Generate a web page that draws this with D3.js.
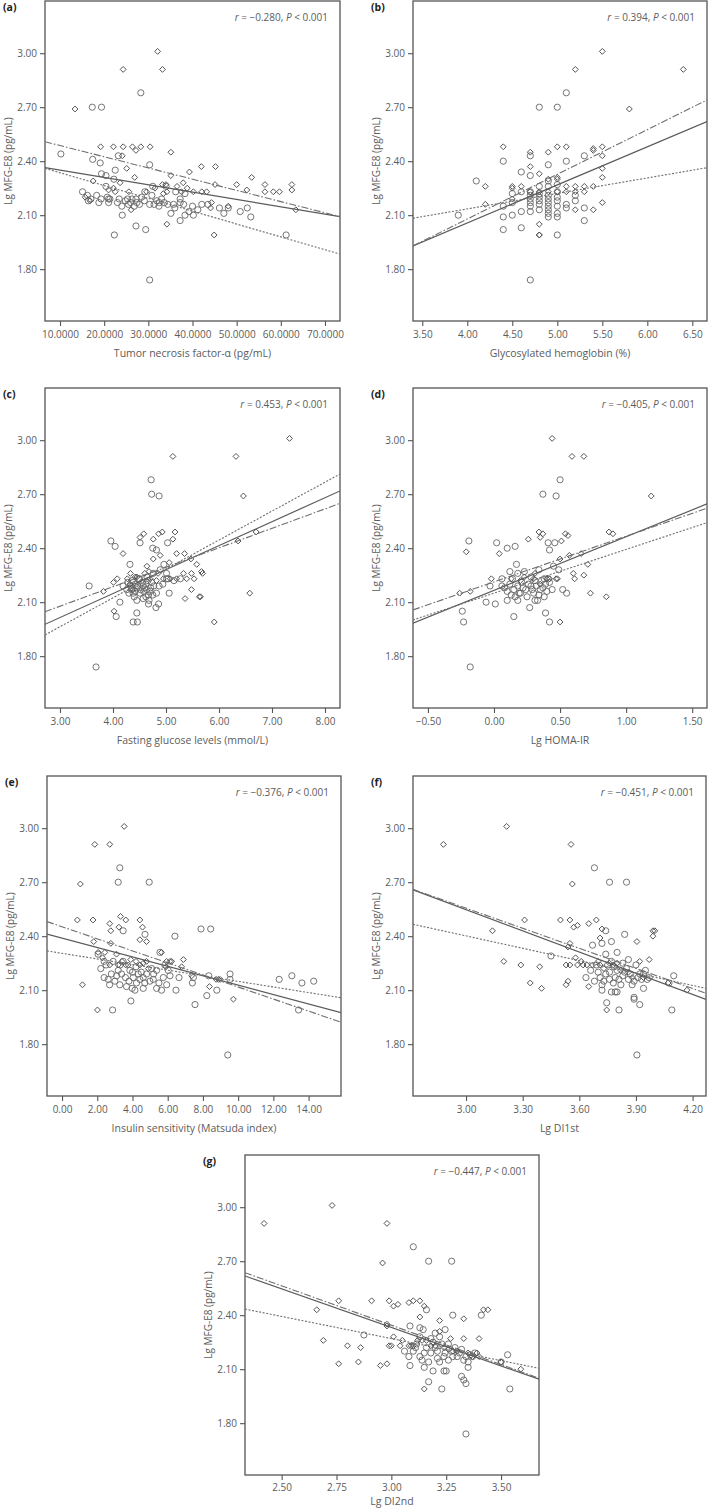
<!DOCTYPE html>
<html><head><meta charset="utf-8">
<script src="https://cdn.jsdelivr.net/npm/d3@7/dist/d3.min.js"></script>
<style>
body{margin:0;background:#fff;}
svg{display:block;font-family:"Open Sans",sans-serif;}
</style></head>
<body><svg id="chart" width="709" height="1510"></svg>
<script>
// ---------------- DATA ----------------
const yTicks = [1.80, 2.10, 2.40, 2.70, 3.00];
const yDomain = [1.512, 3.29];
const yTitle = "Lg MFG-E8 (pg/mL)";

// (a) Tumor necrosis factor-α
const aXTicks = [10, 20, 30, 40, 50, 60, 70];
const aDomain = [6.6, 73.4];
const aDiamonds = [[13.4,2.69],[24.3,2.91],[32.1,3.01],[33.2,2.91],[19.2,2.48],[22.1,2.48],[24.3,2.48],[26.4,2.48],[28.3,2.48],[30.4,2.48],
 [27.2,2.46],[35.1,2.45],[24.1,2.43],[39.3,2.34],[42.0,2.37],[45.2,2.37],[25.1,2.36],[35.1,2.32],[26.9,2.31],[53.4,2.31],
 [50.0,2.27],[56.4,2.27],[62.5,2.27],[52.3,2.24],[56.4,2.23],[58.3,2.23],[59.7,2.23],[62.5,2.24],[45.1,2.27],[42.1,2.23],
 [43.2,2.23],[40.2,2.23],[33.2,2.27],[34.0,2.27],[34.2,2.23],[33.4,2.22],[37.5,2.23],[37.9,2.28],[25.6,2.23],[22.5,2.23],
 [22.1,2.25],[17.5,2.29],[15.7,2.20],[16.8,2.18],[44.3,2.17],[44.1,2.14],[48.1,2.15],[34.2,2.05],[44.9,1.99],[63.4,2.13],[26.1,2.13],
 [36.5,2.26],[38.8,2.25],[31.5,2.25],[29.6,2.23],[21.0,2.24],[23.6,2.28]];
const aCircles = [[10.2,2.44],[17.3,2.70],[19.4,2.70],[28.3,2.78],[17.4,2.41],[19.1,2.39],[19.4,2.33],[20.4,2.32],[22.5,2.35],[30.3,2.38],
 [23.2,2.43],[15.1,2.23],[16.2,2.21],[16.4,2.18],[18.3,2.21],[19.3,2.19],[20.7,2.20],[21.3,2.19],[20.4,2.26],[22.2,2.30],
 [23.4,2.19],[25.3,2.19],[24.0,2.15],[25.5,2.16],[27.2,2.19],[27.4,2.17],[29.1,2.18],[29.2,2.23],[31.0,2.26],[31.9,2.18],
 [33.0,2.19],[30.3,2.16],[31.3,2.16],[24.1,2.10],[27.2,2.04],[29.4,2.02],[22.3,1.99],[30.3,1.74],[35.1,2.11],[37.2,2.07],
 [34.4,2.16],[35.7,2.16],[37.2,2.19],[37.2,2.17],[38.3,2.10],[39.2,2.12],[40.2,2.10],[40.0,2.15],[38.3,2.22],[46.1,2.14],
 [47.1,2.11],[48.1,2.14],[50.8,2.12],[52.4,2.14],[53.2,2.09],[61.2,1.99],[42.1,2.16],[21.0,2.17],[21.0,2.19],[26.0,2.17],
 [26.3,2.19],[28.0,2.16],[32.5,2.17],[36.2,2.23],[34.0,2.26],[17.0,2.19],[18.8,2.17],[23.0,2.17],[24.8,2.18],[26.8,2.15],
 [28.5,2.20],[30.8,2.21],[32.4,2.15],[33.6,2.17],[36.0,2.14],[38.0,2.16],[41.2,2.13],[43.5,2.16]];
const aFitTotal = [[6.6,2.364],[73.4,2.092]];
const aFitDotted = [[6.6,2.36],[73.4,1.884]];
const aFitDashDot = [[6.6,2.508],[73.4,2.092]];

// (b) Glycosylated hemoglobin
const bXTicks = [3.5, 4.0, 4.5, 5.0, 5.5, 6.0, 6.5];
const bDomain = [3.397, 6.663];
const bDiamonds = [[5.5,3.01],[5.2,2.91],[6.4,2.91],[5.8,2.69],[4.4,2.48],[4.7,2.45],[4.9,2.45],[5.0,2.48],[5.1,2.48],[5.4,2.47],
 [5.4,2.46],[5.5,2.48],[5.5,2.43],[5.5,2.36],[5.5,2.31],[4.7,2.37],[4.8,2.33],[5.0,2.31],[5.0,2.30],[4.9,2.30],
 [4.5,2.26],[4.5,2.25],[4.6,2.26],[4.2,2.26],[5.1,2.26],[5.2,2.26],[5.3,2.26],[5.4,2.26],[4.7,2.23],[4.8,2.23],
 [4.9,2.23],[5.1,2.23],[5.2,2.23],[5.3,2.23],[5.0,2.23],[4.5,2.19],[4.2,2.16],[5.2,2.13],[5.4,2.13],[5.5,2.17],
 [4.8,2.05],[4.8,1.99],[4.8,1.99]];
const bCircles = [[5.1,2.78],[4.8,2.70],[5.0,2.70],[4.4,2.40],[5.1,2.40],[4.1,2.29],[3.9,2.10],[4.6,2.34],[4.9,2.38],[5.3,2.43],
 [4.7,2.43],[4.4,2.15],[4.4,2.09],[4.4,2.02],[4.5,2.10],[4.6,2.03],[4.6,2.12],[4.5,2.17],[4.7,2.12],[4.7,2.15],
 [4.7,2.17],[4.7,2.19],[4.7,2.21],[4.7,2.32],[4.7,2.23],[4.8,2.13],[4.8,2.16],[4.8,2.18],[4.8,2.20],[4.8,2.22],
 [4.8,2.26],[4.9,2.09],[4.9,2.11],[4.9,2.13],[4.9,2.15],[4.9,2.17],[4.9,2.19],[4.9,2.21],[4.9,2.26],[4.9,2.29],
 [5.0,1.99],[5.0,2.09],[5.0,2.11],[5.0,2.15],[5.0,2.18],[5.0,2.20],[5.0,2.23],[5.0,2.27],[5.1,2.14],[5.1,2.16],
 [5.2,2.18],[5.2,2.21],[5.3,2.07],[5.3,2.14],[4.6,2.23],[4.5,2.22],[4.7,1.74]];
const bFitTotal = [[3.397,1.929],[6.663,2.62]];
const bFitDotted = [[3.397,2.083],[6.663,2.364]];
const bFitDashDot = [[3.397,1.929],[6.663,2.74]];

// (c) Fasting glucose
const cXTicks = [3, 4, 5, 6, 7, 8];
const cDomain = [2.717, 8.283];
const cDiamonds = [[7.33,3.01],[5.13,2.91],[6.32,2.91],[6.46,2.69],[6.70,2.49],[6.36,2.44],[6.58,2.15],[5.91,1.99],
 [5.17,2.49],[4.93,2.49],[4.86,2.48],[4.58,2.48],[4.51,2.46],[4.76,2.45],[5.13,2.45],[4.19,2.37],[5.20,2.37],[5.35,2.37],
 [5.06,2.32],[5.47,2.34],[5.58,2.31],[5.08,2.23],[5.20,2.23],[5.39,2.23],[5.53,2.23],[5.67,2.27],[5.69,2.26],[5.33,2.26],
 [5.48,2.26],[5.48,2.17],[5.36,2.12],[5.63,2.13],[5.65,2.13],[4.08,2.23],[4.01,2.21],[3.82,2.16],[4.33,2.26],[4.42,2.24],
 [4.38,2.17],[4.02,2.05],[4.64,2.30],[4.76,2.34],[4.89,2.36],[4.70,2.23],[4.82,2.22],[4.95,2.23],
 [4.27,2.23],[4.32,2.20],[4.45,2.24],[4.60,2.26],[4.68,2.27],[4.85,2.26]];
const cCircles = [[4.72,2.78],[4.73,2.70],[4.87,2.69],[3.55,2.19],[3.68,1.74],[3.96,2.44],[4.04,2.41],[4.51,2.43],[4.32,2.31],
 [4.75,2.40],[4.82,2.39],[5.03,2.43],[4.06,2.02],[4.38,1.99],[4.46,1.99],[4.45,2.04],[4.13,2.10],[4.45,2.11],[4.67,2.09],
 [4.81,2.07],[4.86,2.09],[5.06,2.15],[4.87,2.19],[4.26,2.17],[4.35,2.17],[4.19,2.19],[4.42,2.20],[4.51,2.15],[4.57,2.19],
 [4.64,2.17],[4.73,2.21],[4.77,2.19],[4.82,2.15],[4.94,2.20],[4.64,2.24],[4.76,2.26],[4.89,2.28],[5.01,2.26],[4.96,2.31],
 [4.50,2.23],[4.57,2.12],[4.67,2.14],[5.01,2.23],[5.04,2.23],[5.15,2.22],[5.27,2.23],[4.30,2.15],[4.40,2.13],[4.55,2.21],
 [4.60,2.18],[4.70,2.16],[4.45,2.18],[4.28,2.21],[4.33,2.19],[4.38,2.15],[4.42,2.16],[4.47,2.19],[4.52,2.17],[4.58,2.16],
 [4.62,2.20],[4.66,2.22],[4.71,2.18],[4.75,2.14],[4.62,2.13],[4.68,2.11],[4.36,2.22],[4.48,2.23]];
const cFitTotal = [[2.717,1.977],[8.283,2.718]];
const cFitDotted = [[2.717,1.918],[8.283,2.812]];
const cFitDashDot = [[2.717,2.047],[8.283,2.649]];

// (d) Lg HOMA-IR
const dXTicks = [-0.5, 0, 0.5, 1.0, 1.5];
const dDomain = [-0.613, 1.612];
const dDiamonds = [[0.44,3.01],[0.59,2.91],[0.68,2.91],[1.19,2.69],[0.87,2.49],[0.90,2.48],[0.34,2.49],[0.37,2.48],[0.54,2.48],
 [0.56,2.47],[0.35,2.46],[0.26,2.45],[0.51,2.44],[-0.21,2.38],[0.04,2.37],[0.66,2.37],[0.57,2.36],[0.71,2.31],[0.50,2.34],
 [-0.02,2.23],[-0.18,2.16],[-0.26,2.15],[0.47,2.23],[0.48,2.23],[0.60,2.26],[0.61,2.23],[0.68,2.25],[0.73,2.15],[0.85,2.13],
 [0.50,1.99],[0.13,2.23],[0.23,2.24],[0.31,2.26],[0.35,2.20],[0.40,2.23],[0.42,2.23],[0.30,2.23],[0.20,2.22]];
const dCircles = [[0.50,2.78],[0.37,2.70],[0.47,2.69],[-0.19,2.44],[0.02,2.43],[0.16,2.41],[0.10,2.40],[0.41,2.43],[0.46,2.43],
 [0.42,2.39],[0.17,2.31],[-0.24,2.05],[-0.23,1.99],[-0.18,1.74],[-0.06,2.10],[0.01,2.09],[0.15,2.02],[0.27,2.07],[0.39,2.04],
 [0.42,1.99],[-0.03,2.19],[0.06,2.19],[0.10,2.16],[0.13,2.14],[0.15,2.17],[0.16,2.13],[0.18,2.19],[0.20,2.15],[0.21,2.21],
 [0.24,2.17],[0.25,2.13],[0.28,2.19],[0.30,2.15],[0.31,2.22],[0.33,2.11],[0.35,2.17],[0.38,2.13],[0.39,2.20],[0.40,2.16],
 [0.06,2.23],[0.18,2.26],[0.28,2.24],[0.38,2.23],[0.41,2.23],[0.31,2.11],[0.10,2.11],[0.18,2.11],[0.45,2.30],[0.49,2.28],
 [0.52,2.17],[0.55,2.15],[0.08,2.18],[0.12,2.20],[0.14,2.23],[0.19,2.15],[0.22,2.18],[0.26,2.20],[0.29,2.17],[0.32,2.19],
 [0.34,2.14],[0.36,2.22],[0.37,2.18],[0.42,2.21],[0.44,2.17],[0.12,2.27],[0.23,2.27],[0.34,2.28]];
const dFitTotal = [[-0.613,1.983],[1.612,2.646]];
const dFitDotted = [[-0.613,2.001],[1.612,2.542]];
const dFitDashDot = [[-0.613,2.057],[1.612,2.622]];

// (e) Matsuda index
const eXTicks = [0, 2, 4, 6, 8, 10, 12, 14];
const eDomain = [-0.854, 15.84];
const eDiamonds = [[3.53,3.01],[1.86,2.91],[2.71,2.91],[1.04,2.69],[0.87,2.49],[1.76,2.49],[2.71,2.47],[3.23,2.45],[3.32,2.51],
 [3.62,2.49],[4.42,2.49],[4.57,2.45],[2.77,2.43],[1.80,2.37],[4.42,2.38],[4.80,2.37],[2.77,2.36],[6.89,2.27],[6.79,2.23],
 [1.16,2.13],[2.05,2.31],[2.43,2.31],[2.71,2.24],[3.09,2.30],[3.19,2.24],[3.62,2.24],[3.76,2.24],[4.42,2.24],[4.61,2.25],
 [4.80,2.26],[4.90,2.22],[5.65,2.31],[5.94,2.26],[6.13,2.26],[6.22,2.26],[7.36,2.18],[8.37,2.12],[8.75,2.16],[8.88,2.16],
 [9.73,2.05],[8.98,2.16],[2.01,1.99],[2.3,2.28],[3.4,2.26],[3.9,2.27],[4.2,2.26],[5.9,2.23]];
const eCircles = [[3.28,2.78],[3.19,2.70],[4.95,2.70],[3.47,2.43],[7.89,2.44],[8.44,2.44],[6.41,2.40],[4.71,2.41],[2.87,1.99],
 [3.91,2.04],[7.55,2.02],[8.22,2.07],[9.41,1.74],[13.43,1.99],[12.33,2.16],[13.05,2.18],[13.62,2.14],[14.29,2.15],[9.54,2.19],
 [9.54,2.16],[7.46,2.17],[7.40,2.14],[8.33,2.18],[8.79,2.10],[6.47,2.10],[6.64,2.17],[5.65,2.10],[5.37,2.11],[5.94,2.13],
 [5.56,2.31],[5.84,2.24],[6.03,2.21],[5.75,2.17],[6.13,2.18],[5.37,2.21],[5.18,2.16],[2.05,2.30],[2.39,2.26],[2.39,2.17],
 [2.62,2.16],[3.00,2.15],[3.28,2.13],[3.66,2.12],[3.98,2.11],[4.14,2.10],[4.23,2.14],[2.90,2.26],[3.19,2.21],[3.38,2.19],
 [3.47,2.26],[3.85,2.21],[4.04,2.17],[4.42,2.16],[4.61,2.17],[4.80,2.19],[5.09,2.22],[4.99,2.15],[4.61,2.11],[4.33,2.19],
 [2.2,2.22],[2.5,2.24],[2.8,2.19],[3.1,2.18],[3.3,2.24],[3.6,2.17],[3.8,2.15],[4.0,2.20],[4.2,2.23],[4.5,2.20],[4.7,2.14],
 [5.2,2.19],[5.5,2.14],[2.7,2.13]];
const eFitTotal = [[-0.854,2.412],[15.84,1.975]];
const eFitDotted = [[-0.854,2.318],[15.84,2.058]];
const eFitDashDot = [[-0.854,2.481],[15.84,1.922]];

// (f) Lg DI1st
const fXTicks = [3.0, 3.3, 3.6, 3.9, 4.2];
const fDomain = [2.719, 4.271];
const fDiamonds = [[2.88,2.91],[3.215,3.01],[3.556,2.91],[3.563,2.69],[3.14,2.43],[3.31,2.49],[3.20,2.26],[3.29,2.24],[3.34,2.14],
 [3.39,2.23],[3.40,2.11],[3.50,2.49],[3.55,2.49],[3.59,2.46],[3.57,2.45],[3.55,2.36],[3.54,2.34],[3.53,2.24],[3.55,2.24],
 [3.54,2.15],[3.53,2.13],[3.65,2.47],[3.69,2.49],[3.72,2.44],[3.71,2.39],[3.64,2.24],[3.62,2.24],[3.67,2.24],[3.70,2.26],
 [3.71,2.24],[3.65,2.12],[3.59,2.24],[3.58,2.28],[3.61,2.26],[3.905,2.37],[3.97,2.27],[3.99,2.43],[4.00,2.43],[3.99,2.40],
 [4.07,2.14],[4.17,2.10],[3.94,2.17],[3.92,2.26],[3.745,1.99],[3.78,2.24],[3.80,2.25],[3.82,2.21],
 [3.73,2.22],[3.76,2.25],[3.86,2.20],[3.88,2.17]];
const fCircles = [[3.68,2.78],[3.76,2.70],[3.85,2.70],[3.45,2.29],[3.84,2.41],[3.77,2.37],[3.74,2.43],[3.67,2.35],[4.09,1.99],
 [4.10,2.18],[3.905,1.74],[3.92,2.02],[3.89,2.06],[3.89,2.05],[3.81,1.99],[3.745,2.03],[3.77,2.09],[3.79,2.09],[3.80,2.09],
 [3.72,2.10],[3.94,2.11],[3.635,2.17],[3.66,2.21],[3.68,2.15],[3.71,2.17],[3.72,2.13],[3.74,2.19],[3.76,2.16],[3.78,2.14],
 [3.79,2.17],[3.80,2.21],[3.82,2.13],[3.83,2.18],[3.85,2.22],[3.86,2.16],[3.87,2.19],[3.88,2.13],[3.90,2.24],[3.91,2.17],
 [3.93,2.16],[3.94,2.19],[3.96,2.16],[3.95,2.21],[3.75,2.24],[3.77,2.26],[3.785,2.23],[3.83,2.25],[3.80,2.31],[3.74,2.30],
 [3.72,2.36],[4.075,2.14],[3.70,2.20],[3.73,2.15],[3.76,2.20],[3.81,2.16],[3.84,2.20],[3.89,2.15],[3.92,2.19],[3.97,2.17],
 [3.69,2.24],[3.86,2.27]];
const fFitTotal = [[2.719,2.657],[4.271,2.049]];
const fFitDotted = [[2.719,2.466],[4.271,2.11]];
const fFitDashDot = [[2.719,2.66],[4.271,2.083]];

// (g) Lg DI2nd
const gXTicks = [2.5, 2.75, 3.0, 3.25, 3.5];
const gDomain = [2.333, 3.673];
const gDiamonds = [[2.42,2.91],[2.73,3.01],[2.98,2.91],[2.96,2.69],[2.66,2.43],[2.76,2.48],[2.69,2.26],[2.76,2.13],[2.80,2.23],
 [2.86,2.22],[2.85,2.14],[2.91,2.48],[2.95,2.12],[2.99,2.48],[3.01,2.45],[3.03,2.46],[2.98,2.35],[2.98,2.34],[3.01,2.28],
 [2.99,2.23],[3.00,2.23],[3.04,2.23],[2.98,2.13],[3.08,2.47],[3.10,2.48],[3.13,2.48],[3.15,2.45],[3.13,2.39],[3.05,2.26],
 [3.08,2.23],[3.09,2.23],[3.10,2.23],[3.12,2.26],[3.14,2.26],[3.16,2.26],[3.22,2.37],[3.22,2.31],[3.27,2.27],[3.33,2.38],
 [3.33,2.27],[3.40,2.27],[3.44,2.43],[3.42,2.43],[3.39,2.19],[3.40,2.17],[3.37,2.17],[3.50,2.14],[3.59,2.10],[3.15,1.99],
 [3.24,2.22],[3.26,2.21],[3.28,2.20],[3.18,2.23],[3.20,2.23],[3.30,2.20],[3.35,2.19]];
const gCircles = [[3.10,2.78],[3.17,2.70],[3.275,2.70],[2.875,2.29],[3.085,2.34],[3.13,2.33],[3.16,2.43],[3.28,2.40],[3.41,2.40],
 [3.34,1.74],[3.54,1.99],[3.23,1.99],[3.34,2.02],[3.33,2.04],[3.32,2.06],[3.17,2.03],[3.19,2.09],[3.24,2.09],[3.25,2.09],
 [3.35,2.11],[3.15,2.11],[3.53,2.18],[3.50,2.14],[3.08,2.17],[3.085,2.12],[3.10,2.20],[3.115,2.24],[3.13,2.17],[3.15,2.19],
 [3.16,2.22],[3.17,2.14],[3.18,2.19],[3.20,2.22],[3.21,2.16],[3.21,2.20],[3.23,2.24],[3.24,2.17],[3.245,2.19],[3.26,2.15],
 [3.275,2.20],[3.29,2.22],[3.30,2.17],[3.31,2.19],[3.33,2.15],[3.34,2.17],[3.36,2.18],[3.37,2.17],[3.18,2.27],[3.20,2.30],
 [3.22,2.28],[3.245,2.32],[3.13,2.28],[3.145,2.32],[3.11,2.22],[3.14,2.15],[3.19,2.25],[3.22,2.14],[3.26,2.24],[3.28,2.17],
 [3.32,2.21],[3.35,2.14],[3.06,2.20],[3.38,2.19]];
const gFitTotal = [[2.333,2.618],[3.673,2.044]];
const gFitDotted = [[2.333,2.434],[3.673,2.105]];
const gFitDashDot = [[2.333,2.636],[3.673,2.05]];

const panelLabels = ["(a)","(b)","(c)","(d)","(e)","(f)","(g)"];
const xTitles = ["Tumor necrosis factor-\u03B1 (pg/mL)","Glycosylated hemoglobin (%)","Fasting glucose levels (mmol/L)",
  "Lg HOMA-IR","Insulin sensitivity (Matsuda index)","Lg DI1st","Lg DI2nd"];
const rValues = ["\u22120.280","0.394","0.453","\u22120.405","\u22120.376","\u22120.451","\u22120.447"];
const tickFormats = [".4f",".2f",".2f",".2f",".2f",".2f",".2f"];

// ---------------- LAYOUT ----------------
const layout = [
  {x0:45, x1:340, top:1, tl:17, tt:36},
  {x0:413, x1:707, top:1, tl:17, tt:36},
  {x0:45, x1:340, top:388, tl:17, tt:36},
  {x0:413, x1:707, top:388, tl:17, tt:36},
  {x0:47, x1:341, top:776, tl:17, tt:36},
  {x0:413, x1:706, top:776, tl:17, tt:36},
  {x0:245, x1:539, top:1155, tl:16, tt:30}
];
const H = 320;
const panels = [
  {dom:aDomain, ticks:aXTicks, dia:aDiamonds, cir:aCircles, fits:[aFitTotal,aFitDotted,aFitDashDot]},
  {dom:bDomain, ticks:bXTicks, dia:bDiamonds, cir:bCircles, fits:[bFitTotal,bFitDotted,bFitDashDot]},
  {dom:cDomain, ticks:cXTicks, dia:cDiamonds, cir:cCircles, fits:[cFitTotal,cFitDotted,cFitDashDot]},
  {dom:dDomain, ticks:dXTicks, dia:dDiamonds, cir:dCircles, fits:[dFitTotal,dFitDotted,dFitDashDot]},
  {dom:eDomain, ticks:eXTicks, dia:eDiamonds, cir:eCircles, fits:[eFitTotal,eFitDotted,eFitDashDot]},
  {dom:fDomain, ticks:fXTicks, dia:fDiamonds, cir:fCircles, fits:[fFitTotal,fFitDotted,fFitDashDot]},
  {dom:gDomain, ticks:gXTicks, dia:gDiamonds, cir:gCircles, fits:[gFitTotal,gFitDotted,gFitDashDot]}
];
const lineStyles = [
  {dash:null, color:"#5a5a5a", w:1.2},
  {dash:"2,1.6", color:"#6e6e6e", w:1.1},
  {dash:"7,2,1.6,2", color:"#6e6e6e", w:1.1}
];

const svg = d3.select("#chart");
svg.append("rect").attr("width",709).attr("height",1510).attr("fill","#fff");

panels.forEach((p, i) => {
  const L = layout[i];
  const x = d3.scaleLinear().domain(p.dom).range([L.x0, L.x1]);
  const y = d3.scaleLinear().domain(yDomain).range([L.top + H, L.top]);
  const g = svg.append("g");
  const clipId = "clip" + i;
  g.append("clipPath").attr("id", clipId).append("rect")
    .attr("x", L.x0).attr("y", L.top).attr("width", L.x1 - L.x0).attr("height", H);

  // axes
  const xa = d3.axisBottom(x).tickValues(p.ticks).tickFormat(d3.format(tickFormats[i])).tickSize(5).tickSizeOuter(0);
  const gx = g.append("g").attr("transform", `translate(0,${L.top + H})`).call(xa);
  const ya = d3.axisLeft(y).tickValues(yTicks).tickFormat(d3.format(".2f")).tickSize(5).tickSizeOuter(0);
  const gy = g.append("g").attr("transform", `translate(${L.x0},0)`).call(ya);
  [gx, gy].forEach(ax => {
    ax.select(".domain").remove();
    ax.selectAll(".tick line").attr("stroke", "#555").attr("stroke-width", 1.1);
    ax.selectAll(".tick text").attr("fill", "#5c5c5c").attr("font-size", 10)
      .attr("font-family", "'Open Sans', sans-serif");
  });
  gx.selectAll(".tick text").attr("dy", null).attr("y", L.tl);
  gy.selectAll(".tick text").attr("x", -8);
  gx.selectAll(".tick text").text(d => d3.format(tickFormats[i])(d).replace("-", "\u2212"));

  // frame
  g.append("rect").attr("x", L.x0).attr("y", L.top).attr("width", L.x1 - L.x0).attr("height", H)
    .attr("fill", "none").attr("stroke", "#555").attr("stroke-width", 1.3);

  const plot = g.append("g").attr("clip-path", `url(#${clipId})`);
  // circles
  plot.selectAll("circle.pt").data(p.cir).join("circle").attr("class","pt")
    .attr("cx", d => x(d[0])).attr("cy", d => y(d[1])).attr("r", 3.1)
    .attr("fill", "none").attr("stroke", "#666").attr("stroke-width", 0.9);
  // diamonds
  const sym = d3.symbol().type(d3.symbolDiamond2).size(22);
  plot.selectAll("path.dia").data(p.dia).join("path").attr("class","dia")
    .attr("transform", d => `translate(${x(d[0])},${y(d[1])})`).attr("d", sym)
    .attr("fill", "none").attr("stroke", "#555").attr("stroke-width", 1.0);
  // fit lines
  const line = d3.line().x(d => x(d[0])).y(d => y(d[1]));
  p.fits.forEach((f, k) => {
    const st = lineStyles[k];
    plot.append("path").attr("d", line(f)).attr("fill", "none")
      .attr("stroke", st.color).attr("stroke-width", st.w)
      .attr("stroke-dasharray", st.dash);
  });

  // texts
  g.append("text").attr("x", L.x0 - 42).attr("y", L.top + 10).text(panelLabels[i])
    .attr("font-weight", "bold").attr("font-size", 10.5).attr("fill", "#222");
  const ann = g.append("text").attr("x", L.x1 - 12).attr("y", L.top + 20).attr("text-anchor", "end")
    .attr("font-size", 10).attr("fill", "#5c5c5c");
  ann.append("tspan").attr("font-style", "italic").text("r");
  ann.append("tspan").text(" = " + rValues[i] + ", ");
  ann.append("tspan").attr("font-style", "italic").text("P");
  ann.append("tspan").text(" < 0.001");
  g.append("text").attr("transform", `translate(${L.x0 - 33},${L.top + H / 2}) rotate(-90)`)
    .attr("text-anchor", "middle").attr("font-size", 10).attr("fill", "#5c5c5c").text(yTitle);
  g.append("text").attr("x", (L.x0 + L.x1) / 2).attr("y", L.top + H + L.tt).attr("text-anchor", "middle")
    .attr("font-size", 10.5).attr("fill", "#5c5c5c").text(xTitles[i]);
});
</script>
</body></html>
